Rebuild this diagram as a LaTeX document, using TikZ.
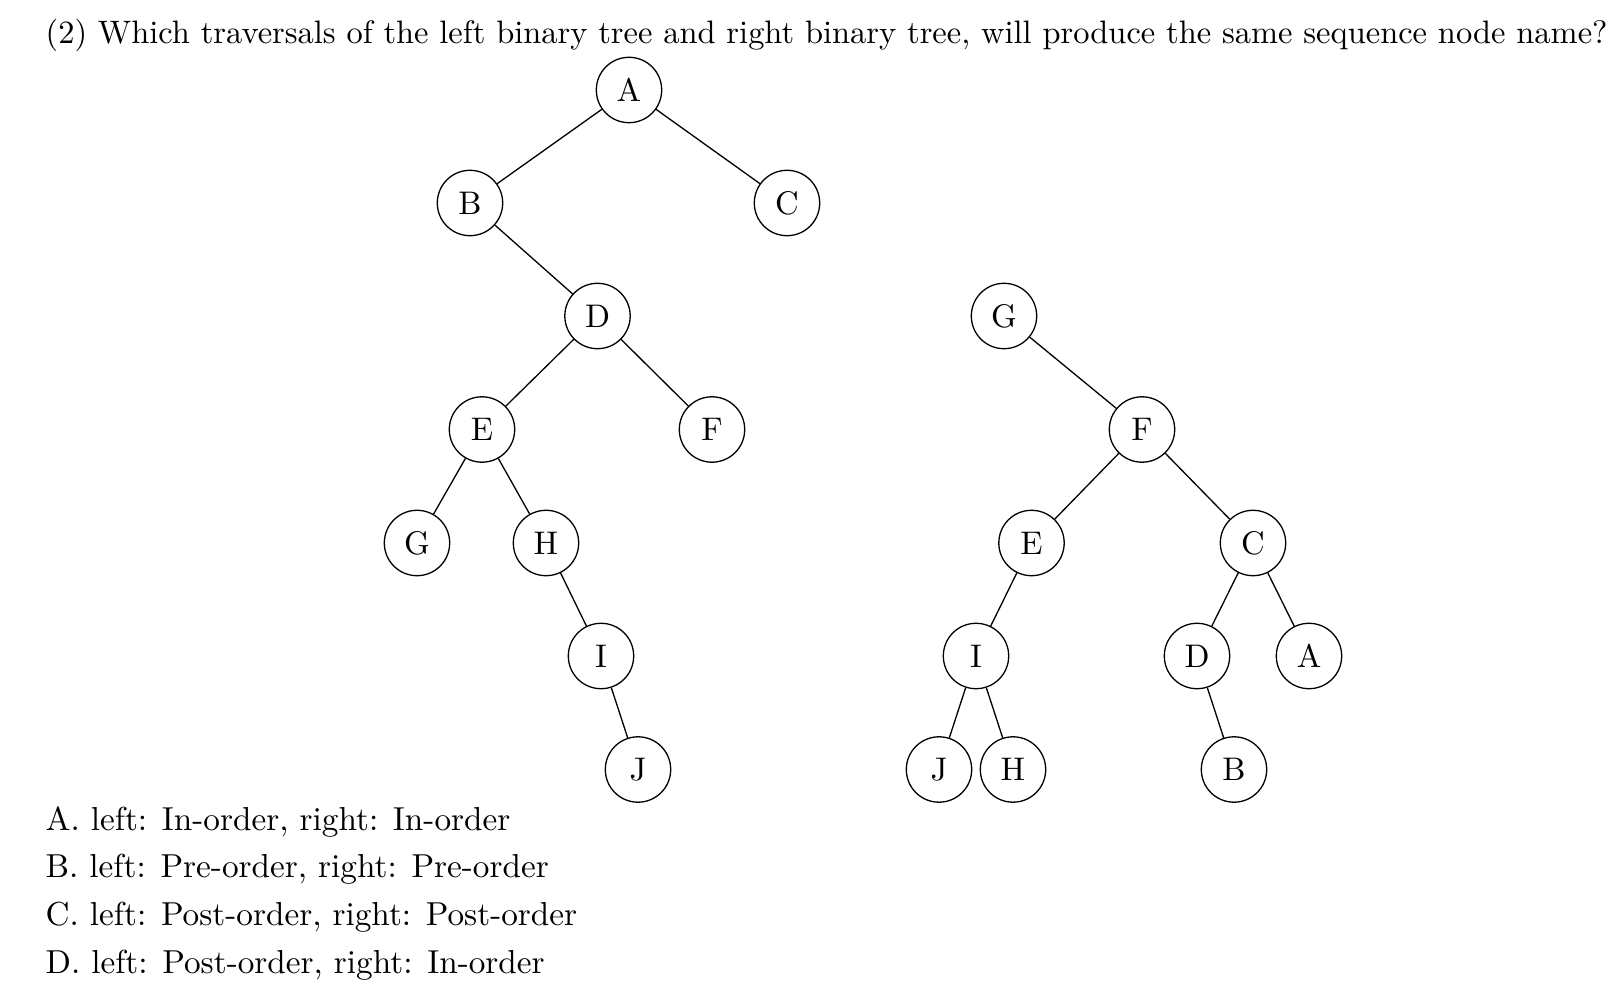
\documentclass[tikz,border=0pt]{standalone}
\begin{document}
\begin{tikzpicture}[x=0.3058pt,y=-0.3058pt,
  tn/.style={draw,circle,minimum size=20pt,inner sep=0pt,line width=0.4pt},
  txt/.style={anchor=base west,inner sep=0pt},
  titlefont/.style={font=\fontsize{9.93}{12}\selectfont},
  optfont/.style={font=\fontsize{10.16}{12}\selectfont}]
\useasboundingbox (0,0) rectangle (1616,992);
\node[txt,titlefont] (title) at (45,44) {(2) Which traversals of the left binary tree and right binary tree, will produce the same sequence node name?};
% left tree
\node[tn] (lA) at (629,90) {A};
\node[tn] (lB) at (470,203) {B};
\node[tn] (lC) at (787,203) {C};
\node[tn] (lD) at (597.5,316) {D};
\node[tn] (lE) at (482,429.5) {E};
\node[tn] (lF) at (712,429.5) {F};
\node[tn] (lG) at (417,543) {G};
\node[tn] (lH) at (546,543) {H};
\node[tn] (lI) at (601,656) {I};
\node[tn] (lJ) at (638,769.5) {J};
\draw (lA) -- (lB); \draw (lA) -- (lC);
\draw (lB) -- (lD);
\draw (lD) -- (lE); \draw (lD) -- (lF);
\draw (lE) -- (lG); \draw (lE) -- (lH);
\draw (lH) -- (lI);
\draw (lI) -- (lJ);
% right tree
\node[tn] (rG) at (1004,316) {G};
\node[tn] (rF) at (1142,429.5) {F};
\node[tn] (rE) at (1031.5,543) {E};
\node[tn] (rC) at (1253,543) {C};
\node[tn] (rI) at (976,656) {I};
\node[tn] (rD) at (1197,656) {D};
\node[tn] (rA) at (1309,656) {A};
\node[tn] (rJ) at (939,769.5) {J};
\node[tn] (rH) at (1013,769.5) {H};
\node[tn] (rB) at (1234,769.5) {B};
\draw (rG) -- (rF);
\draw (rF) -- (rE); \draw (rF) -- (rC);
\draw (rE) -- (rI);
\draw (rI) -- (rJ); \draw (rI) -- (rH);
\draw (rC) -- (rD); \draw (rC) -- (rA);
\draw (rD) -- (rB);
% options
\node[txt,optfont] (optA) at (45,830) {A. left: In-order, right: In-order};
\node[txt,optfont] (optB) at (45,877.7) {B. left: Pre-order, right: Pre-order};
\node[txt,optfont] (optC) at (45,925.5) {C. left: Post-order, right: Post-order};
\node[txt,optfont] (optD) at (45,973.3) {D. left: Post-order, right: In-order};
\end{tikzpicture}
\end{document}
